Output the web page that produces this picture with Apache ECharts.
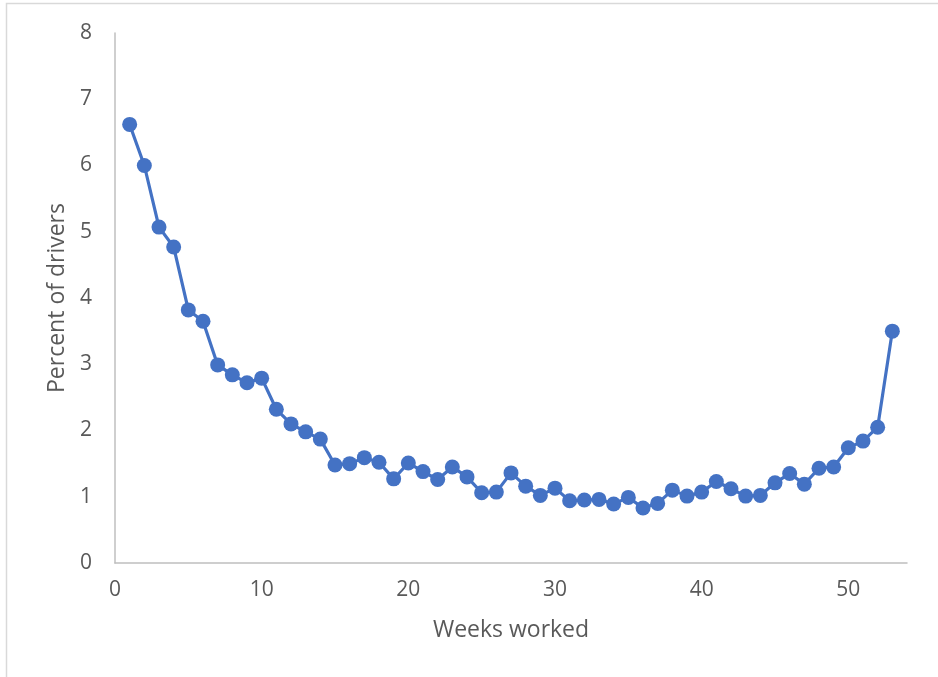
<!DOCTYPE html>
<html>
<head>
<meta charset="utf-8">
<script src="https://cdn.jsdelivr.net/npm/echarts@6/dist/echarts.min.js"></script>
<style>
html,body{margin:0;padding:0;background:#fff;}
#chart{width:938px;height:677px;}
</style>
</head>
<body>
<div id="chart"></div>
<script>
var weeks = [1,2,3,4,5,6,7,8,9,10,11,12,13,14,15,16,17,18,19,20,21,22,23,24,25,26,27,28,29,30,31,32,33,34,35,36,37,38,39,40,41,42,43,44,45,46,47,48,49,50,51,52,53];
var percentDrivers = [6.62,6.00,5.07,4.77,3.82,3.65,2.99,2.84,2.72,2.79,2.32,2.10,1.98,1.87,1.48,1.50,1.59,1.52,1.27,1.51,1.38,1.26,1.45,1.30,1.06,1.07,1.36,1.16,1.02,1.13,0.94,0.95,0.96,0.89,0.99,0.83,0.90,1.10,1.01,1.07,1.23,1.12,1.01,1.02,1.21,1.35,1.19,1.43,1.45,1.74,1.84,2.05,3.50];
var xTicks = [0,10,20,30,40,50];
var yTicks = [0,1,2,3,4,5,6,7,8];

var chart = echarts.init(document.getElementById('chart'), null, {renderer:'canvas'});
var font = '"Open Sans", "Noto Sans", sans-serif';
chart.setOption({
  animation:false,
  backgroundColor:'#ffffff',
  graphic:[{
    type:'rect', silent:true, z:-1,
    shape:{x:6.5,y:3.5,width:1200,height:1200},
    style:{fill:'none',stroke:'#d9d9d9',lineWidth:1.5}
  }],
  grid:{left:115,top:33,right:31,bottom:114,containLabel:false},
  xAxis:{
    type:'value', min:0, max:54, interval:10,
    name:'Weeks worked', nameLocation:'middle', nameGap:56,
    nameTextStyle:{color:'#595959',fontSize:23,fontFamily:font},
    axisLine:{show:true,lineStyle:{color:'#bfbfbf',width:1.5}},
    axisTick:{show:false},
    splitLine:{show:false},
    axisLabel:{color:'#595959',fontSize:21,fontFamily:font,margin:17,
      formatter:function(v){return xTicks.indexOf(v)>=0?String(v):'';}}
  },
  yAxis:{
    type:'value', min:0, max:8, interval:1,
    name:'Percent of drivers', nameLocation:'middle', nameGap:45, nameRotate:90,
    nameTextStyle:{color:'#595959',fontSize:23,fontFamily:font},
    axisLine:{show:true,lineStyle:{color:'#bfbfbf',width:1.5}},
    axisTick:{show:false},
    splitLine:{show:false},
    axisLabel:{color:'#595959',fontSize:21,fontFamily:font,margin:23,
      formatter:function(v){return yTicks.indexOf(v)>=0?String(v):'';}}
  },
  series:[{
    type:'line',
    data:weeks.map(function(w,i){return [w,percentDrivers[i]];}),
    symbol:'circle', symbolSize:15,
    lineStyle:{color:'#4472C4',width:3.2},
    itemStyle:{color:'#4472C4'}
  }]
});
</script>
</body>
</html>
